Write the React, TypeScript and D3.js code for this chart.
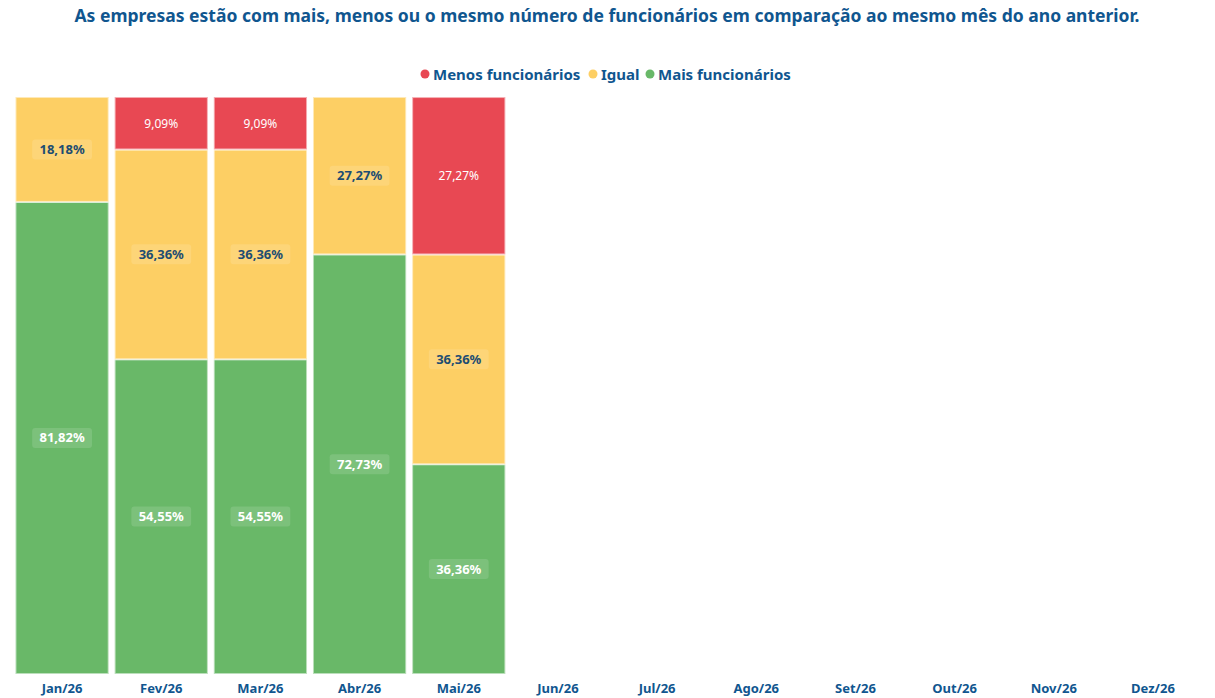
import React from 'react';
import * as d3 from 'd3';

const months = ['Jan/26', 'Fev/26', 'Mar/26', 'Abr/26', 'Mai/26', 'Jun/26', 'Jul/26', 'Ago/26', 'Set/26', 'Out/26', 'Nov/26', 'Dez/26'];
const filled = ['Jan/26', 'Fev/26', 'Mar/26', 'Abr/26', 'Mai/26'];
const mais = [81.82, 54.55, 54.55, 72.73, 36.36];
const igual = [18.18, 36.36, 36.36, 27.27, 36.36];
const menos = [0, 9.09, 9.09, 0, 27.27];

const seriesNames = ['Menos funcionários', 'Igual', 'Mais funcionários'];
const colors: Record<string, string> = {
  mais: '#69b868',
  igual: '#fdcf64',
  menos: '#e84853',
};

const W = 1215;
const H = 698;
const margin = { top: 97, right: 14, bottom: 24, left: 12.5 };
const FONT = "'Noto Sans', 'Open Sans', sans-serif";
const BLUE = '#10568f';

const fmt = (v: number) => v.toFixed(2).replace('.', ',') + '%';

export default function App() {
  const rows = filled.map((m, i) => ({ month: m, mais: mais[i], igual: igual[i], menos: menos[i] }));
  const stack = d3.stack<any>().keys(['mais', 'igual', 'menos']);
  const layers = stack(rows);

  const x = d3
    .scaleBand()
    .domain(months)
    .range([margin.left, W - margin.right + 1.5])
    .paddingInner(0.06)
    .paddingOuter(0.03);

  const y = d3
    .scaleLinear()
    .domain([0, 100])
    .range([H - margin.bottom, margin.top]);

  const legendX = [425, 593, 650];

  return (
    <svg width={W} height={H} style={{ position: 'absolute', left: 0, top: 0, background: '#fff' }}>
      <text x={607} y={22} textAnchor="middle" fontFamily={FONT} fontWeight="bold" fontSize={18} fill={BLUE} textLength={1065} lengthAdjust="spacingAndGlyphs">
        As empresas estão com mais, menos ou o mesmo número de funcionários em comparação ao mesmo mês do ano anterior.
      </text>

      {/* legend */}
      {seriesNames.map((s, i) => (
        <g key={s}>
          <circle cx={legendX[i]} cy={74} r={4.5} fill={[colors.menos, colors.igual, colors.mais][i]} />
          <text x={legendX[i] + 8} y={79.5} fontFamily={FONT} fontWeight="bold" fontSize={15} fill={BLUE}>
            {s}
          </text>
        </g>
      ))}

      {/* bars */}
      {layers.map(layer => (
        <g key={layer.key}>
          {layer.map((d, i) => {
            const v = d[1] - d[0];
            if (v <= 0) return null;
            const x0 = x(filled[i]) as number;
            const bw = x.bandwidth();
            const yTop = y(d[1]);
            const yBot = y(d[0]);
            const cy = (yTop + yBot) / 2;
            const label = fmt(v);
            const isRed = layer.key === 'menos';
            const boxW = label.length * 8.3 + 10;
            return (
              <g key={i}>
                <rect
                  x={x0}
                  y={yTop}
                  width={bw}
                  height={yBot - yTop}
                  fill={colors[layer.key]}
                  stroke="rgba(255,255,255,0.55)"
                  strokeWidth={2}
                />
                {!isRed && (
                  <rect x={x0 + bw / 2 - boxW / 2} y={cy - 10} width={boxW} height={20} rx={3} fill="rgba(255,255,255,0.13)" />
                )}
                <text
                  x={x0 + bw / 2}
                  y={cy + 4.5}
                  textAnchor="middle"
                  fontFamily={FONT}
                  fontWeight={isRed ? 'normal' : 'bold'}
                  fontSize={isRed ? 12 : 13}
                  fill={layer.key === 'igual' ? '#1d4d72' : '#fff'}
                >
                  {label}
                </text>
              </g>
            );
          })}
        </g>
      ))}

      {/* x axis labels */}
      {months.map(m => (
        <text
          key={m}
          x={(x(m) as number) + x.bandwidth() / 2}
          y={693}
          textAnchor="middle"
          fontFamily={FONT}
          fontWeight="bold"
          fontSize={13}
          fill={BLUE}
        >
          {m}
        </text>
      ))}
    </svg>
  );
}
